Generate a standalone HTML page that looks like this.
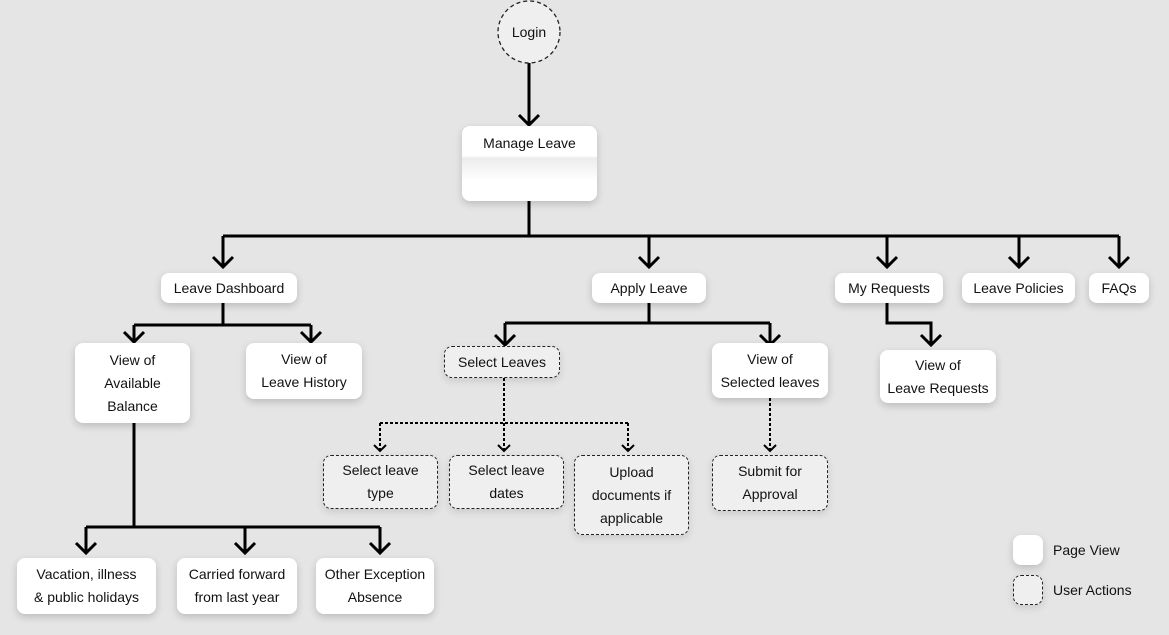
<!DOCTYPE html>
<html><head><meta charset="utf-8"><style>
body{margin:0;width:1169px;height:635px;background:#e5e5e5;position:relative;overflow:hidden;font-family:"Liberation Sans",sans-serif;font-size:14px;color:#111}
.b{position:absolute;background:#fff;border-radius:8px;box-shadow:0 3px 8px rgba(0,0,0,.18);display:flex;align-items:center;justify-content:center;text-align:center;line-height:23px;box-sizing:border-box}
.d{background:#efefef;border:1.3px dashed #222;box-shadow:0 3px 8px rgba(0,0,0,.12)}
svg{position:absolute;left:0;top:0}
.t{position:absolute;font-size:14px}
</style></head><body>
<svg width="1169" height="635" fill="none" stroke="#000" stroke-width="3">
<path d="M529 63V125M519 115l10 10 10-10"/>
<path d="M529 201V236M223 236H1119M223 236V267M649 236V267M887 236V267M1019 236V267M1119 236V267"/>
<path d="M213 257l10 10 10-10M639 257l10 10 10-10M877 257l10 10 10-10M1009 257l10 10 10-10M1109 257l10 10 10-10"/>
<path d="M223 303V325M134 325H311M134 325V342M311 325V342M124 332l10 10 10-10M301 332l10 10 10-10"/>
<path d="M649 303V323M505 323H770M505 323V345M770 323V345M495 335l10 10 10-10M760 335l10 10 10-10"/>
<path d="M887 303V323H931V345M921 335l10 10 10-10"/>
<path d="M134 423V527M86 527H380M86 527V553M245 527V553M380 527V553M76 543l10 10 10-10M235 543l10 10 10-10M370 543l10 10 10-10"/>
<g stroke-width="2" stroke-dasharray="3 2">
<path d="M504 378V451M380 423H628M380 423V451M628 423V451M770 398V451"/>
</g>
<g stroke-width="2">
<path d="M374 445l6 6 6-6M498 445l6 6 6-6M622 445l6 6 6-6M764 445l6 6 6-6"/>
</g>
<circle cx="529" cy="32" r="31" fill="#efefef" stroke="#222" stroke-width="1.3" stroke-dasharray="4 3"/>
</svg>
<div class="t" style="left:500px;top:24px;width:58px;text-align:center">Login</div>
<div class="b" style="left:462px;top:126px;width:135px;height:75px;align-items:flex-start;padding-top:6px;background:linear-gradient(#fff 0,#fff 30px,#ececec 32px,#fff 55px)">Manage Leave</div>
<div class="b" style="left:161px;top:273px;width:136px;height:30px">Leave Dashboard</div>
<div class="b" style="left:592px;top:273px;width:114px;height:30px">Apply Leave</div>
<div class="b" style="left:835px;top:273px;width:108px;height:30px">My Requests</div>
<div class="b" style="left:962px;top:273px;width:113px;height:30px">Leave Policies</div>
<div class="b" style="left:1089px;top:273px;width:60px;height:30px">FAQs</div>
<div class="b" style="left:75px;top:343px;width:115px;height:80px">View of<br>Available<br>Balance</div>
<div class="b" style="left:246px;top:343px;width:116px;height:56px">View of<br>Leave History</div>
<div class="b d" style="left:444px;top:346px;width:116px;height:32px">Select Leaves</div>
<div class="b" style="left:712px;top:343px;width:116px;height:55px">View of<br>Selected leaves</div>
<div class="b" style="left:880px;top:350px;width:116px;height:53px">View of<br>Leave Requests</div>
<div class="b d" style="left:323px;top:455px;width:115px;height:54px">Select leave<br>type</div>
<div class="b d" style="left:449px;top:455px;width:115px;height:54px">Select leave<br>dates</div>
<div class="b d" style="left:574px;top:455px;width:115px;height:80px">Upload<br>documents if<br>applicable</div>
<div class="b d" style="left:712px;top:455px;width:116px;height:56px">Submit for<br>Approval</div>
<div class="b" style="left:17px;top:558px;width:139px;height:56px">Vacation, illness<br>&amp; public holidays</div>
<div class="b" style="left:177px;top:558px;width:120px;height:56px">Carried forward<br>from last year</div>
<div class="b" style="left:316px;top:558px;width:118px;height:56px">Other Exception<br>Absence</div>
<div class="b" style="left:1013px;top:535px;width:30px;height:30px"></div>
<div class="b d" style="left:1013px;top:575px;width:30px;height:30px"></div>
<div class="t" style="left:1053px;top:542px">Page View</div>
<div class="t" style="left:1053px;top:582px">User Actions</div>
</body></html>
